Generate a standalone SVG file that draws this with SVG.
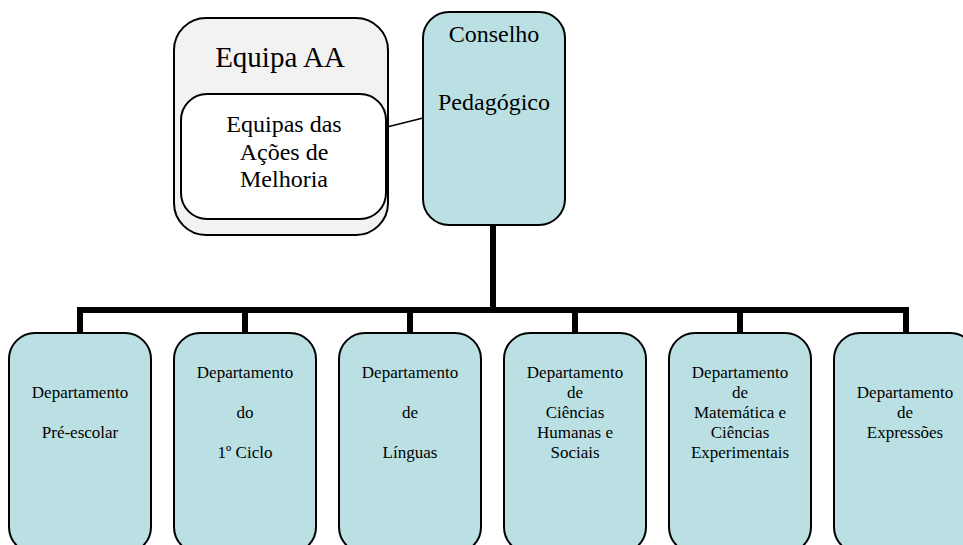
<svg xmlns="http://www.w3.org/2000/svg" width="963" height="545" viewBox="0 0 963 545">
  <style>
    .box { fill: #BBE0E3; stroke: #000; stroke-width: 2; }
    text { font-family: 'Liberation Serif', 'Times New Roman', serif; fill: #000; text-anchor: middle; }
    .s17 { font-size: 17px; }
    .s24 { font-size: 24px; }
    .s29 { font-size: 29px; }
    .bar { stroke: #000; stroke-width: 6; fill: none; stroke-linecap: butt; }
  </style>
  <rect width="963" height="545" fill="#fff"/>

  <g id="connectors">
    <line x1="387" y1="127" x2="423" y2="118" stroke="#000" stroke-width="1.8"/>
    <line class="bar" x1="493" y1="226" x2="493" y2="310"/>
    <line class="bar" x1="77" y1="310" x2="909" y2="310"/>
    <line class="bar" x1="80" y1="307" x2="80" y2="334"/>
    <line class="bar" x1="245" y1="307" x2="245" y2="334"/>
    <line class="bar" x1="410" y1="307" x2="410" y2="334"/>
    <line class="bar" x1="575" y1="307" x2="575" y2="334"/>
    <line class="bar" x1="740" y1="307" x2="740" y2="334"/>
    <line class="bar" x1="906" y1="307" x2="906" y2="334"/>
  </g>

  <g id="equipa-aa">
    <rect x="174" y="18" width="214" height="217" rx="32" ry="32" fill="#F2F2F2" stroke="#000" stroke-width="2"/>
    <text class="s29" x="280" y="67">Equipa AA</text>
  </g>

  <g id="equipas-acoes">
    <rect x="181" y="94" width="205" height="125" rx="26" ry="26" fill="#fff" stroke="#000" stroke-width="2"/>
    <text class="s24" x="284" y="132">Equipas das</text>
    <text class="s24" x="284" y="160">Ações de</text>
    <text class="s24" x="284" y="187">Melhoria</text>
  </g>

  <g id="conselho">
    <rect class="box" x="423" y="12" width="142" height="213" rx="26" ry="26"/>
    <text class="s24" x="494" y="42">Conselho</text>
    <text class="s24" x="494" y="110">Pedagógico</text>
  </g>

  <g id="dep-pre-escolar">
    <rect class="box" x="9" y="333" width="142" height="220" rx="26" ry="26"/>
    <text class="s17" x="80" y="398">Departamento</text>
    <text class="s17" x="80" y="438">Pré-escolar</text>
  </g>

  <g id="dep-1-ciclo">
    <rect class="box" x="174" y="333" width="142" height="220" rx="26" ry="26"/>
    <text class="s17" x="245" y="378">Departamento</text>
    <text class="s17" x="245" y="418">do</text>
    <text class="s17" x="245" y="458">1º Ciclo</text>
  </g>

  <g id="dep-linguas">
    <rect class="box" x="339" y="333" width="142" height="220" rx="26" ry="26"/>
    <text class="s17" x="410" y="378">Departamento</text>
    <text class="s17" x="410" y="418">de</text>
    <text class="s17" x="410" y="458">Línguas</text>
  </g>

  <g id="dep-ciencias-humanas">
    <rect class="box" x="504" y="333" width="142" height="220" rx="26" ry="26"/>
    <text class="s17" x="575" y="378">Departamento</text>
    <text class="s17" x="575" y="398">de</text>
    <text class="s17" x="575" y="418">Ciências</text>
    <text class="s17" x="575" y="438">Humanas e</text>
    <text class="s17" x="575" y="458">Sociais</text>
  </g>

  <g id="dep-matematica">
    <rect class="box" x="669" y="333" width="142" height="220" rx="26" ry="26"/>
    <text class="s17" x="740" y="378">Departamento</text>
    <text class="s17" x="740" y="398">de</text>
    <text class="s17" x="740" y="418">Matemática e</text>
    <text class="s17" x="740" y="438">Ciências</text>
    <text class="s17" x="740" y="458">Experimentais</text>
  </g>

  <g id="dep-expressoes">
    <rect class="box" x="834" y="333" width="142" height="220" rx="26" ry="26"/>
    <text class="s17" x="905" y="398">Departamento</text>
    <text class="s17" x="905" y="418">de</text>
    <text class="s17" x="905" y="438">Expressões</text>
  </g>
</svg>
